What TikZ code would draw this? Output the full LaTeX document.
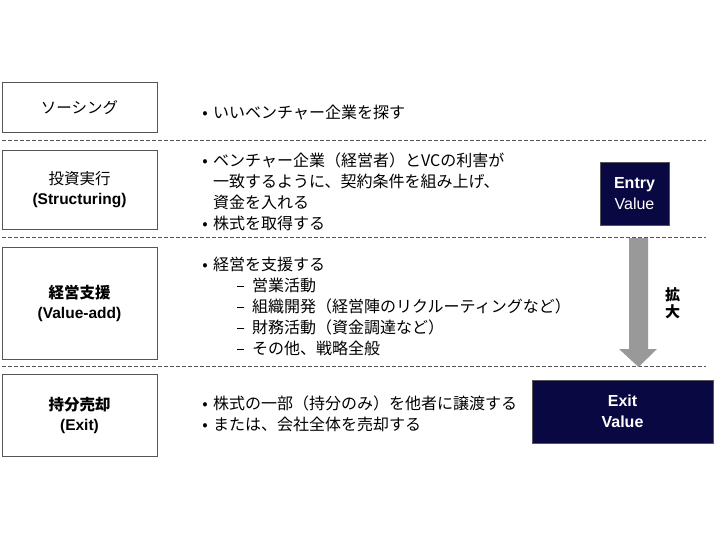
\documentclass[tikz,border=0pt]{standalone}
\usepackage{fontspec}
\setmainfont{Liberation Sans}
\newfontfamily\jp{Noto Sans CJK JP}
\definecolor{navybox}{RGB}{10,8,66}
\definecolor{arrowgray}{RGB}{153,153,153}
\definecolor{framegray}{RGB}{85,85,85}
\newcommand{\itembullet}{\makebox[16pt]{•}}
\newcommand{\itemcont}{\hspace*{16pt}}
\newcommand{\subitemdash}{\hspace*{32pt}\makebox[23pt]{–}}

\begin{document}
\begin{tikzpicture}[x=1pt,y=-1pt,line join=miter,every node/.style={inner sep=0pt},
  stagebox/.style={draw=framegray,line width=0.9pt,minimum width=155pt,align=center,font=\fontsize{15.5}{20}\selectfont},
  valuebox/.style={fill=navybox,draw=framegray,line width=0.6pt,text=white,align=center,font=\fontsize{16}{21}\selectfont},
  itemtext/.style={anchor=north west,align=left,font=\jp\fontsize{16}{21}\selectfont},
  sepline/.style={draw=framegray,line width=0.7pt,dash pattern=on 4pt off 2pt}]
  \useasboundingbox (0,0) rectangle (720,540);
  % stages on the left
  \node[stagebox,minimum height=49.5pt] (sourcing) at (79.5,107.5) {\jp ソーシング};
  \node[stagebox,minimum height=79.5pt] (structuring) at (79.5,190) {{\jp 投資実行}\\\textbf{(Structuring)}};
  \node[stagebox,minimum height=112pt] (valueadd) at (79.5,303) {{\jp\bfseries 経営支援}\\\textbf{(Value-add)}};
  \node[stagebox,minimum height=82pt] (exit) at (79.5,415) {{\jp\bfseries 持分売却}\\\textbf{(Exit)}};
  % what happens in each stage
  \node[itemtext] (sourcingtxt) at (197,105) {\itembullet いいベンチャー企業を探す};
  \node[itemtext] (structuringtxt) at (197,153) {\itembullet ベンチャー企業（経営者）とVCの利害が\\
    \itemcont 一致するように、契約条件を組み上げ、\\
    \itemcont 資金を入れる\\
    \itembullet 株式を取得する};
  \node[itemtext] (valueaddtxt) at (197,257) {\itembullet 経営を支援する\\
    \subitemdash 営業活動\\
    \subitemdash 組織開発（経営陣のリクルーティングなど）\\
    \subitemdash 財務活動（資金調達など）\\
    \subitemdash その他、戦略全般};
  \node[itemtext] (exittxt) at (197,396) {\itembullet 株式の一部（持分のみ）を他者に譲渡する\\
    \itembullet または、会社全体を売却する};
  % separators
  \draw[sepline] (2,140.5) -- (706,140.5);
  \draw[sepline] (2,237) -- (706,237);
  \draw[sepline] (2,366.5) -- (706,366.5);
  % value boxes and growth arrow
  \node[valuebox,minimum width=69pt,minimum height=63pt] (entryval) at (634.5,193.5) {\textbf{Entry}\\Value};
  \node[valuebox,minimum width=181pt,minimum height=63pt] (exitval) at (622.5,411.5) {\textbf{Exit}\\\textbf{Value}};
  \fill[arrowgray] (629,238) -- (648,238) -- (648,349) -- (657,349) -- (638.5,367)
    -- (619,349) -- (629,349) -- cycle;
  \node[align=center,font=\jp\bfseries\fontsize{15}{17}\selectfont] (growth) at (672.5,303.5) {拡\\大};
\end{tikzpicture}
\end{document}
